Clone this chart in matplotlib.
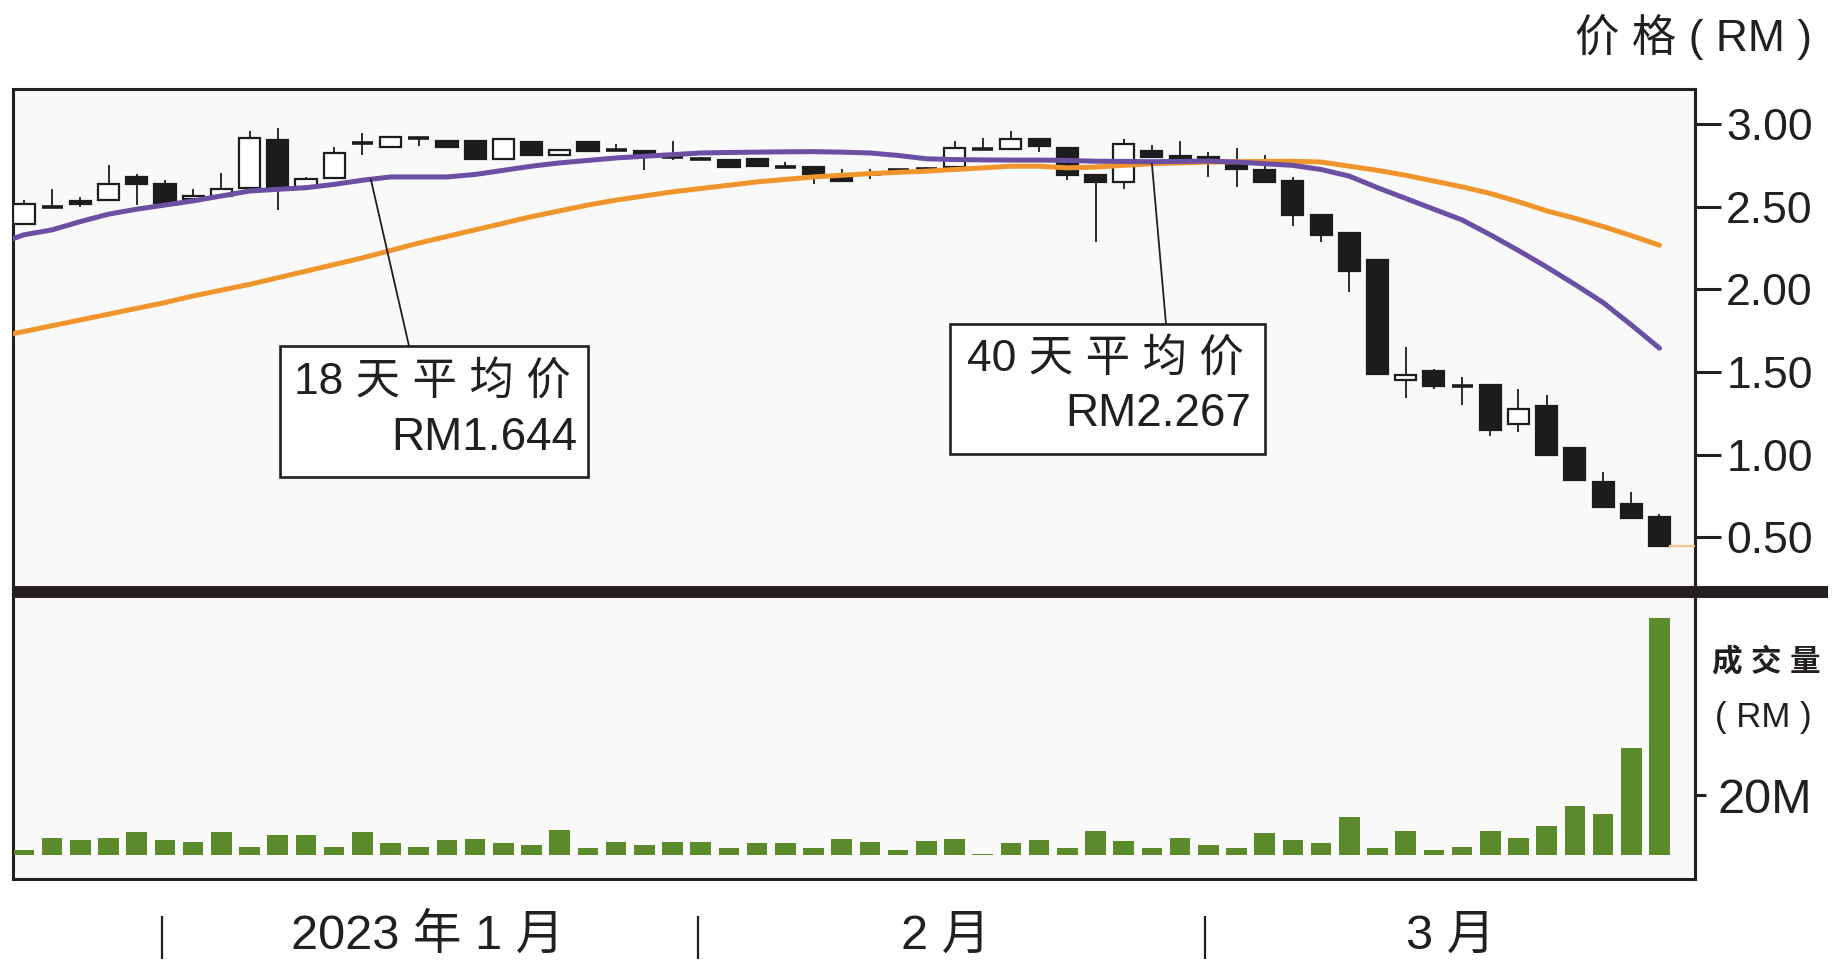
import matplotlib
matplotlib.use("Agg")
import matplotlib.pyplot as plt
import numpy as np
from matplotlib import font_manager
from matplotlib.patches import Rectangle
from matplotlib.lines import Line2D
from matplotlib.transforms import IdentityTransform

# daily candles, late Dec 2022 .. Mar 2023 (index 0..58)
opens = [2.395, 2.50, 2.536, 2.54, 2.68, 2.637, 2.545, 2.564, 2.615, 2.903,
         2.62, 2.671, 2.883, 2.86, 2.917, 2.90, 2.90, 2.79, 2.89, 2.81,
         2.89, 2.843, 2.836, 2.80, 2.79, 2.78, 2.79, 2.738, 2.74, 2.68,
         2.70, 2.72, 2.726, 2.738, 2.85, 2.847, 2.907, 2.853, 2.69, 2.65,
         2.836, 2.806, 2.80, 2.75, 2.72, 2.655, 2.45, 2.34, 2.177, 1.451,
         1.508, 1.415, 1.42, 1.185, 1.294, 1.04, 0.836, 0.70, 0.625]
highs = [2.54, 2.61, 2.56, 2.752, 2.70, 2.66, 2.61, 2.705, 2.96, 2.974,
         2.68, 2.86, 2.947, 2.92, 2.917, 2.90, 2.90, 2.907, 2.89, 2.843,
         2.89, 2.88, 2.836, 2.90, 2.80, 2.78, 2.79, 2.77, 2.74, 2.73,
         2.73, 2.73, 2.74, 2.90, 2.913, 2.96, 2.907, 2.853, 2.69, 2.907,
         2.873, 2.90, 2.83, 2.853, 2.81, 2.68, 2.45, 2.34, 2.177, 1.653,
         1.52, 1.467, 1.42, 1.395, 1.36, 1.04, 0.897, 0.776, 0.64]
lows = [2.39, 2.50, 2.50, 2.54, 2.51, 2.52, 2.545, 2.564, 2.615, 2.48,
        2.61, 2.671, 2.81, 2.86, 2.87, 2.86, 2.79, 2.79, 2.81, 2.81,
        2.835, 2.843, 2.72, 2.78, 2.78, 2.738, 2.746, 2.738, 2.64, 2.657,
        2.67, 2.71, 2.72, 2.738, 2.85, 2.847, 2.83, 2.66, 2.288, 2.61,
        2.80, 2.79, 2.68, 2.62, 2.65, 2.383, 2.288, 1.985, 1.488, 1.34,
        1.40, 1.30, 1.113, 1.139, 0.997, 0.847, 0.685, 0.614, 0.447]
closes = [2.516, 2.50, 2.516, 2.637, 2.64, 2.52, 2.564, 2.61, 2.913, 2.611,
          2.67, 2.826, 2.883, 2.92, 2.917, 2.86, 2.79, 2.907, 2.81, 2.843,
          2.835, 2.843, 2.81, 2.80, 2.79, 2.738, 2.746, 2.738, 2.70, 2.657,
          2.70, 2.72, 2.726, 2.853, 2.85, 2.907, 2.867, 2.692, 2.65, 2.88,
          2.80, 2.79, 2.77, 2.73, 2.65, 2.45, 2.33, 2.113, 1.488, 1.48,
          1.415, 1.415, 1.149, 1.274, 0.997, 0.847, 0.685, 0.614, 0.447]
# volume, RM million
volumes = [1.7, 5.8, 5.0, 5.8, 7.8, 5.0, 4.3, 7.8, 2.8, 6.7,
           6.7, 2.8, 7.8, 3.9, 2.8, 5.0, 5.3, 3.9, 3.3, 8.3,
           2.4, 4.2, 3.3, 4.2, 4.2, 2.4, 3.9, 3.9, 2.4, 5.3,
           4.4, 1.7, 4.7, 5.3, 0.4, 3.9, 5.0, 2.2, 8.0, 4.8,
           2.2, 5.8, 3.3, 2.4, 7.2, 5.0, 3.9, 12.8, 2.4, 8.0,
           1.7, 2.8, 8.0, 5.8, 9.7, 16.4, 13.7, 35.8, 79.1]
# moving averages, index -1..58
ma18 = [2.27, 2.33, 2.36, 2.41, 2.455, 2.485, 2.51, 2.535, 2.565, 2.595,
        2.605, 2.615, 2.635, 2.66, 2.68, 2.68, 2.68, 2.695, 2.72, 2.745,
        2.765, 2.78, 2.795, 2.805, 2.815, 2.825, 2.828, 2.83, 2.832, 2.833,
        2.83, 2.825, 2.81, 2.79, 2.785, 2.783, 2.782, 2.782, 2.78, 2.775,
        2.774, 2.772, 2.774, 2.776, 2.77, 2.76, 2.75, 2.725, 2.685, 2.615,
        2.55, 2.485, 2.42, 2.33, 2.235, 2.135, 2.03, 1.92, 1.785, 1.644]
ma40 = [1.71, 1.745, 1.78, 1.815, 1.85, 1.885, 1.92, 1.96, 1.995, 2.03,
        2.07, 2.11, 2.15, 2.19, 2.235, 2.28, 2.32, 2.36, 2.40, 2.44,
        2.475, 2.51, 2.54, 2.565, 2.59, 2.61, 2.63, 2.65, 2.665, 2.68,
        2.69, 2.70, 2.708, 2.715, 2.725, 2.735, 2.745, 2.745, 2.735, 2.74,
        2.75, 2.76, 2.765, 2.77, 2.772, 2.774, 2.775, 2.77, 2.745, 2.72,
        2.69, 2.655, 2.62, 2.58, 2.53, 2.475, 2.43, 2.38, 2.325, 2.267]

price_ticks = [0.5, 1.0, 1.5, 2.0, 2.5, 3.0]
month_edges = [4.9, 23.9, 41.9]
month_labels = ["2023 年 1 月", "2 月", "3 月"]
month_centers = [14.3, 32.7, 50.6]

INK = "#231f20"
DARK = "#1c1c1c"
PURPLE = "#6b4fa2"
ORANGE = "#f0952b"
GREEN = "#5b8a2b"
PANEL = "#f9f9f9"

names = {f.name for f in font_manager.fontManager.ttflist}
narrow = "Liberation Sans Narrow" if "Liberation Sans Narrow" in names else "Liberation Sans"
plt.rcParams["font.family"] = ["Liberation Sans", "Noto Sans CJK SC"]

W, H = 1845, 975
fig = plt.figure(figsize=(W / 100, H / 100), dpi=100)
fig.patch.set_facecolor("white")


def fr(x0, y0, x1, y1):
    # pixel box (top-left origin) -> figure fraction rect
    return [x0 / W, 1 - y1 / H, (x1 - x0) / W, (y1 - y0) / H]


ax = fig.add_axes(fr(13, 89, 1695, 592))
ax2 = fig.add_axes(fr(13, 592, 1695, 879))

n = len(closes)
days = np.arange(n)
ma_days = np.arange(-1, n)
bw = 0.75

for a in (ax, ax2):
    a.set_facecolor(PANEL)
    a.set_xlim(-0.39, 59.26)
    for s in a.spines.values():
        s.set_linewidth(2.2)
        s.set_color(INK)
    a.set_xticks([])

# candles
for i in days:
    o, h, l, c = opens[i], highs[i], lows[i], closes[i]
    ax.vlines(i, l, h, color=DARK, lw=1.3, zorder=3)
    if abs(c - o) < 0.006:
        ax.hlines(o, i - bw / 2, i + bw / 2, color=DARK, lw=2.6, zorder=4)
    else:
        up = c > o
        ax.add_patch(Rectangle((i - bw / 2, min(o, c)), bw, abs(c - o),
                               facecolor="white" if up else DARK,
                               edgecolor=DARK, lw=1.6, zorder=4))

ax.plot(ma_days, ma40, color=ORANGE, lw=3.6, zorder=5, solid_capstyle="round")
ax.plot(ma_days, ma18, color=PURPLE, lw=3.6, zorder=6, solid_capstyle="round")
ax.plot([n - 1 + bw / 2, 59.26], [closes[-1]] * 2, color="#f2c58a", lw=1.6, zorder=5)

ax.set_ylim(0.169, 3.212)
ax.yaxis.tick_right()
ax.set_yticks(price_ticks)
ax.set_yticklabels([f"{v:.2f}" for v in price_ticks])
ax.tick_params(axis="y", direction="out", length=18.5, width=2.2, pad=4,
               labelsize=32, colors=INK)

# volume
ax2.bar(days, volumes, width=0.73, color=GREEN, zorder=3)
ax2.set_ylim(-8, 87.7)
ax2.yaxis.tick_right()
ax2.set_yticks([20])
ax2.set_yticklabels(["20M"])
ax2.tick_params(axis="y", direction="out", length=8, width=2.2, pad=8,
                labelsize=35, colors=INK)
for t in ax2.get_yticklabels():
    t.set_family([narrow, "Noto Sans CJK SC"])

# separator bar
fig.add_artist(Line2D([13, 1828], [H - 592, H - 592], color=INK, lw=8.6,
                      solid_capstyle="butt", transform=IdentityTransform()))

# month dividers and labels
xt = ax2.get_xaxis_transform()
ax2.vlines(month_edges, -0.279, -0.129, transform=xt, color=INK, lw=1.6, clip_on=False)
for xc, lab in zip(month_centers, month_labels):
    ax2.text(xc, -0.199, lab, transform=xt, ha="center", va="center",
             fontsize=35, family=[narrow, "Noto Sans CJK SC"], color=INK)

# axis titles
idt = IdentityTransform()
fig.text(1812, H - 37, "价 格 ( RM )", transform=idt, ha="right", va="center",
         fontsize=32, color=INK)
fig.text(1766, H - 663, "成 交 量", transform=idt, ha="center", va="center",
         fontsize=22, fontweight="semibold", color=INK)
fig.text(1763, H - 717, "( RM )", transform=idt, ha="center", va="center",
         fontsize=25, color=INK)

# annotation boxes
boxes = [
    dict(rect=(280, 346, 588, 477), l1=(294, 382), l2=(577, 438), anchor=(409, 346),
         tx=12.3, ma=ma18, text="18 天 平 均 价", val=ma18[-1]),
    dict(rect=(950, 324, 1265, 454), l1=(967, 359), l2=(1251, 414), anchor=(1166, 324),
         tx=40.0, ma=ma40, text="40 天 平 均 价", val=ma40[-1]),
]
for b in boxes:
    x0, y0, x1, y1 = b["rect"]
    fig.add_artist(Rectangle((x0, H - y1), x1 - x0, y1 - y0, transform=idt,
                             facecolor="white", edgecolor=INK, lw=1.9, zorder=10))
    fig.text(b["l1"][0], H - b["l1"][1], b["text"], transform=idt, ha="left",
             va="center", fontsize=32, color=INK, zorder=11)
    fig.text(b["l2"][0], H - b["l2"][1], f"RM{b['val']:.3f}", transform=idt,
             ha="right", va="center", fontsize=33, color=INK, zorder=11)
    ty = np.interp(b["tx"], ma_days, b["ma"])
    ax.annotate("", xy=(b["tx"], ty), xycoords="data",
                xytext=(b["anchor"][0], H - b["anchor"][1]), textcoords="figure pixels",
                arrowprops=dict(arrowstyle="-", color=INK, lw=1.3, shrinkA=0, shrinkB=0),
                zorder=7)

fig.savefig("out.png", dpi=100, facecolor="white")
